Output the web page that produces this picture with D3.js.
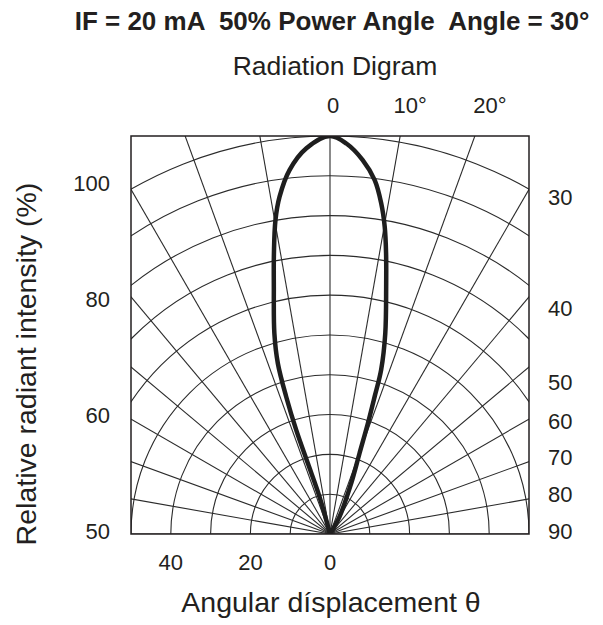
<!DOCTYPE html>
<html>
<head>
<meta charset="utf-8">
<script src="https://cdn.jsdelivr.net/npm/d3@7"></script>
<style>
  html, body { margin: 0; padding: 0; background: #fff; }
  svg text { font-family: "Liberation Sans", Arial, Helvetica, sans-serif; fill: #231f20; white-space: pre; }
</style>
</head>
<body>
<svg id="chart" width="603" height="625"></svg>
<script>
// ---- data ----
const title = "IF = 20 mA  50% Power Angle  Angle = 30°";
const subtitle = "Radiation Digram";
const xTitle = "Angular dísplacement θ";
const yTitle = "Relative radiant intensity (%)";

// lobe: angle from axis (deg, + = right) and relative intensity (%)
const lobeAngle = [0, -15.7, -17.4, -18.0, -17.7, -17.0, -15.5, -12.8, -11.3, -9.85, -8.5, -6.35, -3.5, 0,
                   2.4, 5.0, 7.2, 8.8, 10.1, 11.3, 12.8, 15.4, 17.3, 18.0, 18.9, 20.1, 22.7, 28.8, 0];
const lobeIntensity = [0, 9.7, 18.6, 27.5, 36.2, 44.8, 52.3, 63.7, 71.9, 80.1, 85.7, 92.0, 97.1, 100,
                       98.2, 94.3, 89.6, 84.1, 78.4, 71.9, 63.7, 52.3, 43.2, 36.3, 29.4, 21.6, 13.8, 5.0, 0];

const gridRadii = [10, 20, 30, 40, 50, 60, 70, 80, 90, 100];
const gridAngles = [-90, -80, -70, -60, -50, -40, -30, -20, -10, 0, 10, 20, 30, 40, 50, 60, 70, 80, 90];

const topTicks = [0, 10, 20];
const topTickLabels = ["0", "10°", "20°"];
const rightTicks = [30, 40, 50, 60, 70, 80, 90];
const leftTickLabels = ["100", "80", "60", "50"];
const bottomTicks = [40, 20, 0];

// ---- layout ----
const svg = d3.select("#chart");
const box = { x: 131, y: 136, w: 398, h: 398 };
const cx = box.x + box.w / 2, cy = box.y + box.h;

const r = d3.scaleLinear().domain([0, 100]).range([0, box.h]);
const ang = d3.scaleLinear().domain([-180, 180]).range([-Math.PI, Math.PI]);

const defs = svg.append("defs");
defs.append("clipPath").attr("id", "clip")
  .append("rect").attr("x", box.x).attr("y", box.y).attr("width", box.w).attr("height", box.h);

const g = svg.append("g").attr("clip-path", "url(#clip)");
const gc = g.append("g").attr("transform", `translate(${cx},${cy})`);

// grid arcs
const arc = d3.arc().startAngle(-Math.PI / 2).endAngle(Math.PI / 2);
gc.selectAll("path.ring").data(gridRadii).join("path")
  .attr("class", "ring")
  .attr("d", d => arc({ innerRadius: r(d), outerRadius: r(d) }))
  .attr("fill", "none").attr("stroke", "#2b2b2b").attr("stroke-width", 1.1);

// radial lines
gc.selectAll("line.spoke").data(gridAngles).join("line")
  .attr("class", "spoke")
  .attr("x1", 0).attr("y1", 0)
  .attr("x2", d => Math.sin(ang(d)) * r(200))
  .attr("y2", d => -Math.cos(ang(d)) * r(200))
  .attr("stroke", "#2b2b2b").attr("stroke-width", 1.1);

// lobe
const lobe = lobeAngle.map((a, i) => ({ a, v: lobeIntensity[i] }));
const line = d3.lineRadial()
  .angle(d => ang(d.a))
  .radius(d => r(d.v))
  .curve(d3.curveCatmullRom.alpha(0.5));
gc.append("path").datum(lobe)
  .attr("d", line)
  .attr("fill", "none").attr("stroke", "#1e1e1e").attr("stroke-width", 4.5)
  .attr("stroke-linejoin", "round");

// frame
svg.append("rect").attr("x", box.x).attr("y", box.y).attr("width", box.w).attr("height", box.h)
  .attr("fill", "none").attr("stroke", "#231f20").attr("stroke-width", 1.5);

// ---- texts ----
svg.append("text").attr("x", 332).attr("y", 30).attr("text-anchor", "middle")
  .attr("font-size", 26).attr("font-weight", "bold").text(title);
svg.append("text").attr("x", 335).attr("y", 75).attr("text-anchor", "middle")
  .attr("font-size", 26.5).text(subtitle);

// top ticks (near where spoke meets the top edge)
svg.selectAll("text.top").data(topTicks).join("text")
  .attr("class", "top")
  .attr("x", (d, i) => cx + Math.tan(ang(d)) * box.h + (i === 0 ? 3 : 5 + i * 5))
  .attr("y", 113).attr("text-anchor", "middle").attr("font-size", 22)
  .text((d, i) => topTickLabels[i]);

// right ticks: angular axis along the right edge
const yRight = d3.scaleLinear().domain([30, 40, 50, 60, 90]).range([197, 308, 382, 421, 531]);
svg.selectAll("text.right").data(rightTicks).join("text")
  .attr("class", "right")
  .attr("x", box.x + box.w + 19)
  .attr("y", d => yRight(d))
  .attr("dy", "0.35em").attr("font-size", 22)
  .text(d => d);

// left ticks
const yLeft = d3.scalePoint().domain(leftTickLabels).range([183, 531]);
svg.selectAll("text.left").data(leftTickLabels).join("text")
  .attr("class", "left")
  .attr("x", 110).attr("y", d => yLeft(d)).attr("dy", "0.35em")
  .attr("text-anchor", "end").attr("font-size", 22)
  .text(d => d);

// bottom ticks
svg.selectAll("text.bottom").data(bottomTicks).join("text")
  .attr("class", "bottom")
  .attr("x", d => cx - r(d)).attr("y", 570)
  .attr("text-anchor", "middle").attr("font-size", 22)
  .text(d => d);

svg.append("text").attr("x", 331).attr("y", 612).attr("text-anchor", "middle")
  .attr("font-size", 28.5).text(xTitle);

svg.append("text").attr("transform", `translate(36,364) rotate(-90)`)
  .attr("text-anchor", "middle").attr("font-size", 28.5).text(yTitle);
</script>
</body>
</html>
